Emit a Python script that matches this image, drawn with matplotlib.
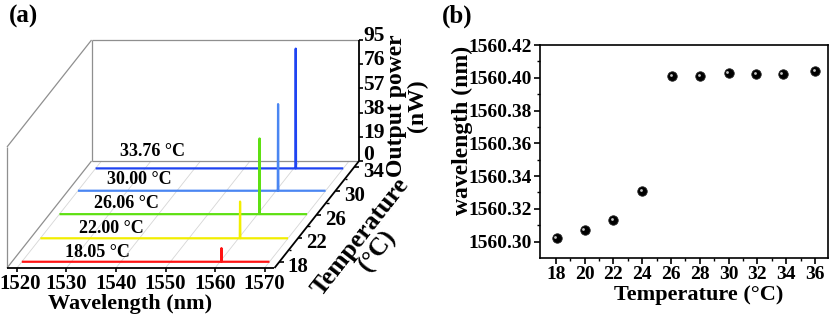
import numpy as np
import matplotlib.pyplot as plt
from matplotlib import transforms

plt.rcParams['font.family'] = ['Liberation Serif', 'DejaVu Serif']
plt.rcParams['font.weight'] = 'bold'
plt.rcParams['axes.labelweight'] = 'bold'

# ---- (a) laser spectra at several temperatures
temps = [18.05, 22.00, 26.06, 30.00, 33.76]
peak_wl = [1560.302, 1560.313, 1560.401, 1560.403, 1560.402]   # nm
peak_pw = [10.7, 28.8, 59.4, 68.0, 94.0]                       # nW
trace_colors = ['#ff1414', '#f2ee00', '#5ee012', '#4a86f2', '#1f44f2']
label_wl = [1535.3, 1534.3, 1533.6, 1532.4, 1531.5]
label_pw = [7.0, 8.0, 8.5, 9.0, 13.0]
wl_span = [1520, 1570]

wl_ticks = [1520, 1530, 1540, 1550, 1560, 1570]
t_ticks = [18, 22, 26, 30, 34]
t_minor = [20, 24, 28, 32]
p_ticks = [0, 19, 38, 57, 76, 95]

# ---- (b) peak wavelength vs temperature
temp_b = [18.05, 20, 22, 24, 26.06, 28, 30, 31.9, 33.76, 36]
wl_b = [1560.302, 1560.307, 1560.313, 1560.331, 1560.401,
        1560.401, 1560.403, 1560.402, 1560.402, 1560.404]

# oblique box of panel (a)
W0, W1 = 1518, 1572
T0, T1 = 17, 35
P1 = 95
DX, DY = 0.948, 4.665      # shift per degree (nm, nW units)


def proj(w, t, p):
    w = np.asarray(w, float)
    t = np.asarray(t, float)
    p = np.asarray(p, float)
    return w + (t - T0) * DX, p + (t - T0) * DY


fig = plt.figure(figsize=(8.30, 3.21), dpi=100)

ax = fig.add_axes([7 / 830, 53 / 321, 352 / 830, 228 / 321])
ax.set_xlim(W0, W1 + (T1 - T0) * DX)
ax.set_ylim(0, P1 + (T1 - T0) * DY)
ax.axis('off')

grey = '#8f8f8f'


def seg(w, t, p, **kw):
    x, y = proj(w, t, p)
    ax.plot(x, y, clip_on=False, solid_capstyle='butt', **kw)


# floor grid
for w in wl_ticks:
    seg([w, w], [T0, T1], [0, 0], color='#d6d6d6', lw=0.6, zorder=1)
# walls
seg([W0, W0], [T0, T0], [0, P1], color=grey, lw=0.9, zorder=1)
seg([W0, W0], [T0, T1], [P1, P1], color=grey, lw=0.9, zorder=1)
seg([W0, W0], [T0, T1], [0, 0], color=grey, lw=0.9, zorder=1)
seg([W0, W0], [T1, T1], [0, P1], color=grey, lw=0.9, zorder=1)
seg([W0, W1], [T1, T1], [P1, P1], color=grey, lw=0.9, zorder=1)
seg([W0, W1], [T1, T1], [0, 0], color=grey, lw=0.9, zorder=1)

# spectra, back to front
for i in range(len(temps) - 1, -1, -1):
    pk = peak_wl[i]
    w = [wl_span[0], pk - 0.06, pk, pk + 0.06, wl_span[1]]
    p = [0, 0, peak_pw[i], 0, 0]
    seg(w, [temps[i]] * 5, p, color=trace_colors[i], lw=1.6, zorder=3)
    x, y = proj(label_wl[i], temps[i], label_pw[i])
    ax.text(x, y, '%.2f °C' % temps[i], fontsize=13, ha='center',
            va='center', zorder=4)

# black axes
seg([W0, W1], [T0, T0], [0, 0], color='black', lw=1.3, zorder=5)
seg([W1, W1], [T0, T1], [0, 0], color='black', lw=1.3, zorder=5)
seg([W1, W1], [T1, T1], [0, P1], color='black', lw=1.3, zorder=5)

for w in wl_ticks:
    seg([w, w], [T0, T0], [0, -3.2], color='black', lw=1.2, zorder=5)
    x, y = proj(max(w, W0 + 2.6), T0, -5.0)
    ax.text(x, y, str(w), fontsize=15, ha='center', va='top')
for t in t_ticks:
    seg([W1, W1 + 0.9], [t, t], [0, 0], color='black', lw=1.2, zorder=5)
    x, y = proj(W1 + 1.7, t, -4.0)
    ax.text(x, y, str(t), fontsize=15, ha='left', va='center')
for t in t_minor:
    seg([W1, W1 + 0.5], [t, t], [0, 0], color='black', lw=1.0, zorder=5)
for p in p_ticks:
    seg([W1, W1 + 0.8], [T1, T1], [p, p], color='black', lw=1.2, zorder=5)
    x, y = proj(W1 + 0.9, T1, p + (5.0 if p == 0 else 3.0))
    ax.text(x, y, str(p), fontsize=15.5, ha='left', va='center')

fig.text(130 / 830, 1 - 304 / 321, 'Wavelength (nm)', fontsize=16,
         ha='center', va='center')
fig.text(369 / 830, 1 - 244 / 321, 'Temperature\n(°C)', fontsize=18.5,
         ha='center', va='center', rotation=52, multialignment='center',
         linespacing=0.95)
fig.text(407 / 830, 1 - 106 / 321, 'Output power\n(nW)', fontsize=17,
         ha='center', va='center', rotation=90, multialignment='center',
         linespacing=0.95)

# ---- panel (b)
bx = fig.add_axes([540 / 830, 63 / 321, 288 / 830, 213 / 321])
bx.plot(temp_b, wl_b, 'o', ms=6.8, color='black', mec='#222222', mew=0.6)
hl = transforms.offset_copy(bx.transData, fig=fig, x=-1.3, y=1.3, units='dots')
bx.plot(temp_b, wl_b, 'o', ms=2.0, color='#c8c8c8', mew=0, transform=hl)
bx.set_xlim(16.9, 36.9)
bx.set_ylim(1560.29, 1560.42)
bx.set_xticks(np.arange(18, 37, 2))
bx.set_xticks(np.arange(19, 37, 2), minor=True)
bx.set_yticks(np.arange(1560.30, 1560.421, 0.02))
bx.set_yticks(np.arange(1560.31, 1560.42, 0.02), minor=True)
bx.yaxis.set_major_formatter(plt.FormatStrFormatter('%.2f'))
bx.tick_params(which='major', direction='out', length=4, width=1.2,
               labelsize=14, pad=2)
bx.tick_params(which='minor', direction='out', length=2.5, width=1.0)
for s in bx.spines.values():
    s.set_linewidth(1.2)
bx.set_xlabel('Temperature (°C)', fontsize=16)
bx.set_ylabel('wavelength (nm)', fontsize=17)
bx.xaxis.set_label_coords(0.55, -0.125)
bx.yaxis.set_label_coords(-0.232, 0.6)

fig.text(23 / 830, 1 - 16 / 321, '(a)', fontsize=18, ha='center', va='center')
fig.text(457 / 830, 1 - 16 / 321, '(b)', fontsize=18, ha='center', va='center')

fig.savefig('out.png', dpi=100)
